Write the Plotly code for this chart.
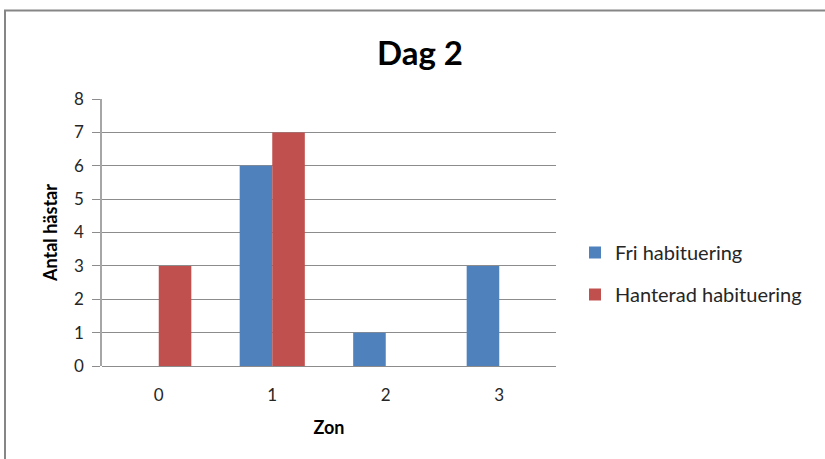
import plotly.graph_objects as go

# Data: number of horses per zone, day 2
zones = ["0", "1", "2", "3"]
fri = [0, 6, 1, 3]
hanterad = [3, 7, 0, 0]
series_names = ["Fri habituering", "Hanterad habituering"]
colors = ["#4F81BD", "#C0504D"]

W, H = 825, 459
L, R, T, B = 102, 269, 99, 93
pw, ph = W - L - R, H - T - B


def px_x(p):
    return (p - L) / pw


def px_y(p):
    return (H - B - p) / ph


fig = go.Figure()
for name, vals, col, grp in zip(series_names, [fri, hanterad], colors, ["a", "b"]):
    fig.add_trace(go.Bar(x=zones, y=vals, name=name, marker=dict(color=col, line=dict(width=0)),
                         legendgroup=grp))

font_family = "Lato, 'Open Sans', sans-serif"
grid_col = "#8c8c8c"
text_col = "#262626"

fig.update_layout(
    width=W, height=H,
    margin=dict(l=L, r=R, t=T, b=B),
    paper_bgcolor="white", plot_bgcolor="white",
    barmode="group", bargap=0.426, bargroupgap=0,
    font=dict(family=font_family, color=text_col, size=17),
    showlegend=True,
    legend=dict(x=px_x(575), y=px_y(233), xanchor="left", yanchor="top",
                font=dict(size=20, color=text_col), tracegroupgap=13,
                bgcolor="rgba(0,0,0,0)"),
    xaxis=dict(type="category", showgrid=False, showline=False,
               ticks="outside", ticklen=14, tickcolor="rgba(0,0,0,0)",
               tickfont=dict(size=17, color=text_col),
               title=dict(text="<b>Zon</b>", font=dict(size=18, color="#000"), standoff=16)),
    yaxis=dict(range=[0, 8], dtick=1, showgrid=True, gridcolor=grid_col, gridwidth=1,
               showline=True, linecolor="#a6a6a6", linewidth=1.5,
               ticks="outside", ticklen=8, tickcolor=grid_col,
               ticklabelstandoff=5,
               tickfont=dict(size=17, color=text_col),
               zeroline=True, zerolinecolor=grid_col, zerolinewidth=1,
               title=dict(text="<b>Antal hästar</b>", font=dict(size=18, color="#000"), standoff=12)),
)

fig.add_annotation(text="<b>Dag 2</b>", xref="paper", yref="paper",
                   x=px_x(420), y=px_y(52), xanchor="center", yanchor="middle",
                   showarrow=False, font=dict(size=33, color="#000", family=font_family))

# Chart frame
fig.add_shape(type="rect", xref="paper", yref="paper",
              x0=px_x(5), x1=px_x(840), y0=px_y(475), y1=px_y(10.5),
              line=dict(color="#868686", width=2), fillcolor="rgba(0,0,0,0)", layer="below")

fig.write_html("out.html")
